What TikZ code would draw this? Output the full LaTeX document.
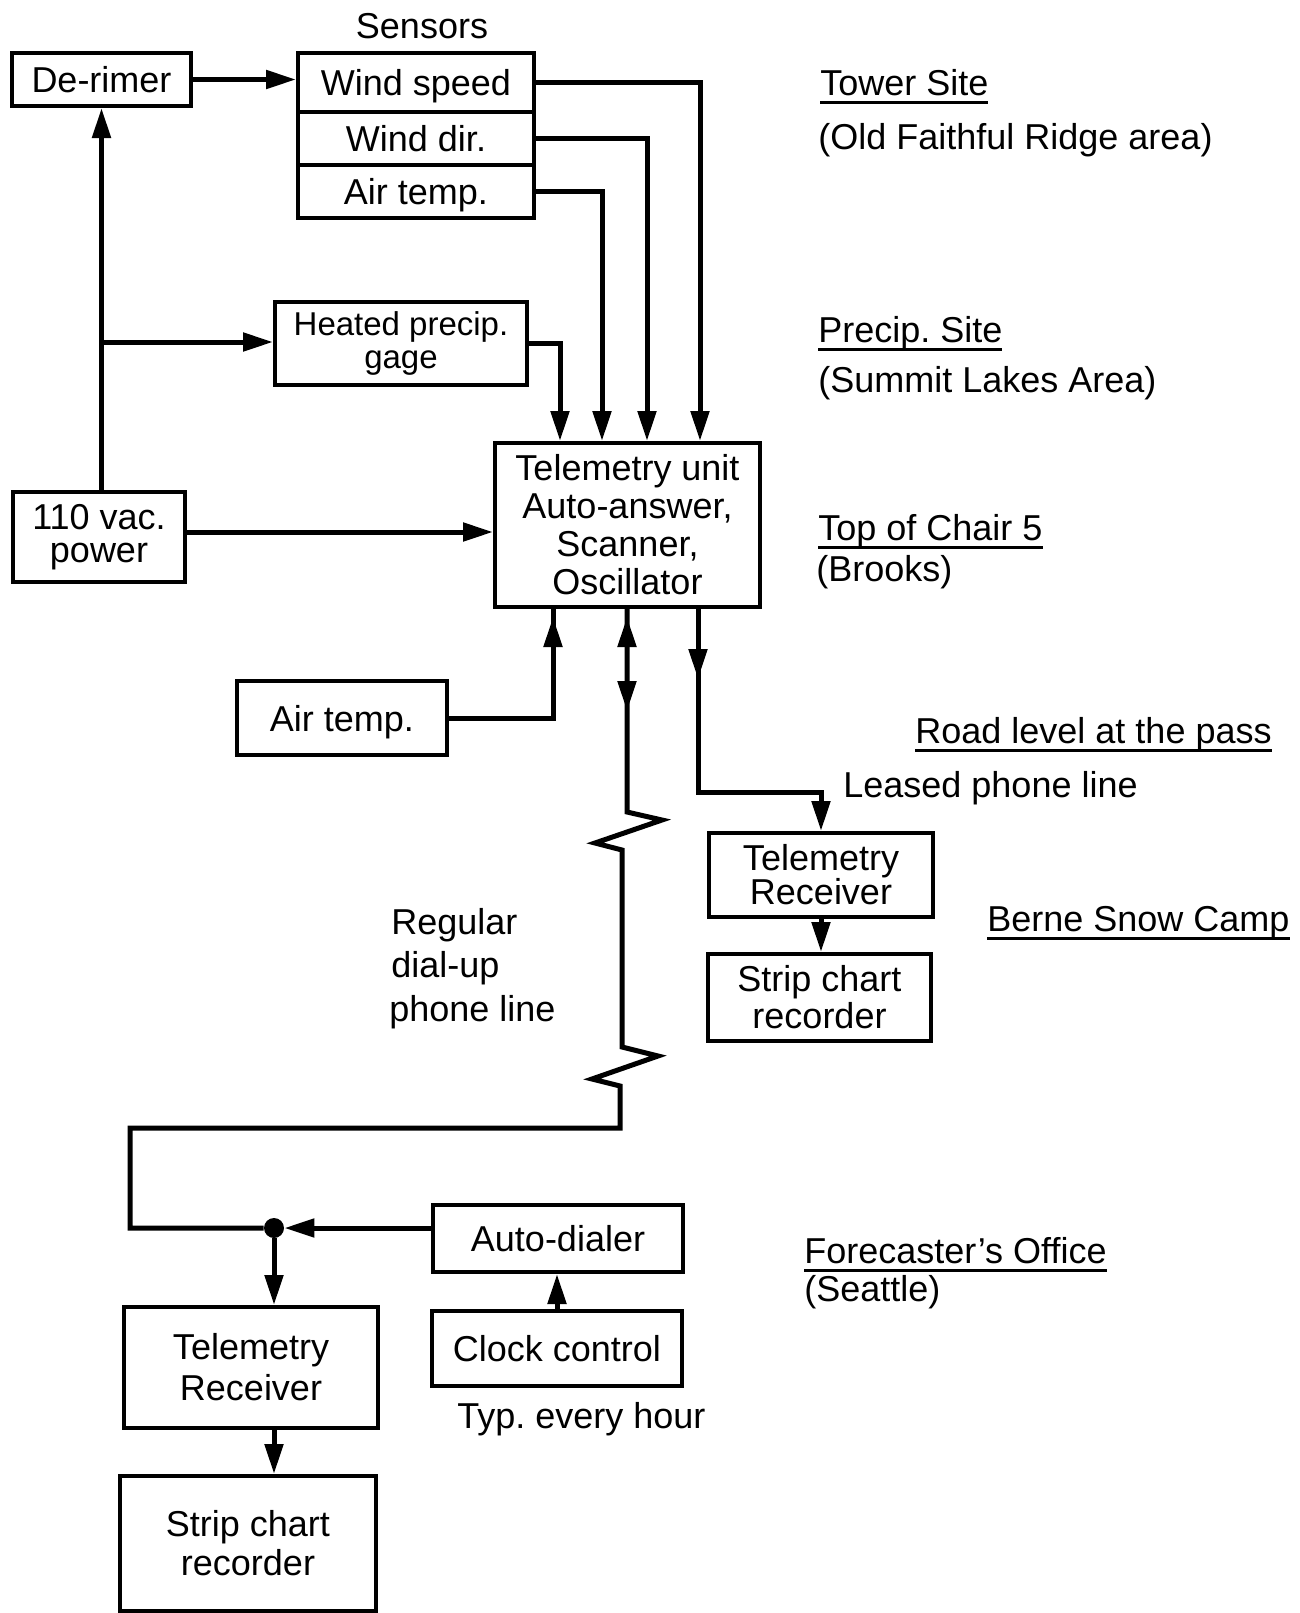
\documentclass[tikz,border=0pt]{standalone}
\usepackage{fontspec}
\setmainfont{Liberation Sans}
\usetikzlibrary{arrows.meta,decorations.markings}
\newcommand\ulbox[1]{\setbox0=\hbox{#1}\rlap{\rule[-4.5pt]{\wd0}{1.5pt}}\box0}
\frenchspacing
\begin{document}
\begin{tikzpicture}[x=0.5pt,y=-0.5pt,
  >={Triangle[length=15pt,width=9pt]},
  box/.style={draw, line width=2pt, inner sep=0pt, align=center,
    font=\fontsize{18pt}{19pt}\selectfont},
  lbl/.style={anchor=base west, inner sep=0pt, font=\fontsize{18pt}{19pt}\selectfont},
  conn/.style={line width=2.5pt},
  arr/.style={conn, ->},
  tipat/.style={postaction={decorate, decoration={markings, mark=at position #1 with {\arrow{>}}}}},
  tipback/.style={postaction={decorate, decoration={markings, mark=at position #1 with {\arrowreversed{>}}}}}
]
\useasboundingbox (0,0) rectangle (1300,1613);

% boxes
\node[box, minimum width=89.5pt, minimum height=26.5pt] (derimer) at (101.5,79.5) {De-rimer};
\node[box, minimum width=118pt, minimum height=29.5pt, text depth=0pt] (ws) at (416,82.5) {Wind speed};
\node[box, minimum width=118pt, minimum height=26.5pt] (wd) at (416,138.5) {Wind dir.};
\node[box, minimum width=118pt, minimum height=26.5pt, text depth=0pt] (at) at (416,191.5) {Air temp.};
\node[box, minimum width=126pt, minimum height=41.5pt, font=\fontsize{16.5pt}{16.5pt}\selectfont] (gage) at (401,343.5) {Heated precip.\\gage};
\node[box, minimum width=132.5pt, minimum height=82pt] (tel) at (627.5,525) {Telemetry unit\\Auto-answer,\\Scanner,\\Oscillator};
\node[box, minimum width=86pt, minimum height=45pt, font=\fontsize{18pt}{16.5pt}\selectfont] (power) at (99,537) {110 vac.\\power};
\node[box, minimum width=105pt, minimum height=37pt, text depth=0pt] (air2) at (342,718) {Air temp.};
\node[box, minimum width=112pt, minimum height=42pt, font=\fontsize{18pt}{17pt}\selectfont] (recv1) at (821,875) {Telemetry\\Receiver};
\node[box, minimum width=111.5pt, minimum height=43.5pt, font=\fontsize{18pt}{18.5pt}\selectfont] (strip1) at (819.5,997.5) {Strip chart\\recorder};
\node[box, minimum width=125pt, minimum height=33.5pt] (autod) at (558,1238.5) {Auto-dialer};
\node[box, minimum width=125pt, minimum height=37.5pt] (clock) at (557,1348.5) {Clock control};
\node[box, minimum width=127pt, minimum height=60.5pt, font=\fontsize{18pt}{20.5pt}\selectfont] (recv2) at (251,1367.5) {Telemetry\\Receiver};
\node[box, minimum width=128pt, minimum height=67.5pt, font=\fontsize{18pt}{19.5pt}\selectfont] (strip2) at (248,1543.5) {Strip chart\\recorder};
\node[circle, fill, minimum size=10pt, inner sep=0pt] (dot) at (274,1228) {};

% labels
\node[lbl, anchor=base] (sens) at (422,38) {Sensors};
\node[lbl] (l1) at (820,95) {\ulbox{Tower Site}};
\node[lbl] (l2) at (818,149) {(Old Faithful Ridge area)};
\node[lbl] (l3) at (818,342) {\ulbox{Precip. Site}};
\node[lbl] (l4) at (818,392) {(Summit Lakes Area)};
\node[lbl] (l5) at (818,540) {\ulbox{Top of Chair 5}};
\node[lbl] (l6) at (816,581) {(Brooks)};
\node[lbl] (l7) at (915,743) {\ulbox{Road level at the pass}};
\node[lbl] (l8) at (843,797) {Leased phone line};
\node[lbl] (l9) at (987,931) {\ulbox{Berne Snow Camp}};
\node[lbl] (l10) at (804,1263) {\ulbox{Forecaster’s Office}};
\node[lbl] (l11) at (804,1301) {(Seattle)};
\node[lbl] (r1) at (391,934) {Regular};
\node[lbl] (r2) at (391,977) {dial-up};
\node[lbl] (r3) at (389,1021) {phone line};
\node[lbl] (typ) at (457,1428) {Typ. every hour};

% helper coordinates
\coordinate (xws) at (700,0);
\coordinate (xwd) at (647,0);
\coordinate (xat) at (602,0);
\coordinate (xgg) at (560,0);
\coordinate (br) at (101.5,342);
\coordinate (pwy) at (0,532);
\coordinate (xa2) at (553,0);
\coordinate (xdl) at (627,0);
\coordinate (lp) at (698,792);

% connectors
\draw[arr] (derimer.east) -- (ws.west |- derimer.east);
\draw[arr] (ws.east) -| (tel.north -| xws);
\draw[arr] (wd.east) -| (tel.north -| xwd);
\draw[arr] (at.east) -| (tel.north -| xat);
\draw[arr] (gage.east) -| (tel.north -| xgg);
\draw[arr] (power.north -| derimer.south) -- (derimer.south);
\draw[arr] (br) -- (gage.west |- br);
\draw[arr] (power.east |- pwy) -- (tel.west |- pwy);
\draw[conn, tipat=-4pt] (air2.east) -| (tel.south -| xa2);
\draw[conn, tipback=4pt, tipat=51pt] (tel.south -| xdl) -- (627,812) -- (662,820) -- (595,843) -- (622,850)
   -- (622,1047) -- (658,1056) -- (592,1079) -- (620,1086) -- (620,1128) -- (130,1128) |- (dot);
\draw[arr, tipat=35pt] (tel.south -| lp) -- (lp) -| (recv1.north);
\draw[arr] (recv1.south) -- (strip1.north -| recv1.south);
\draw[arr] (autod.west |- dot) -- (dot);
\draw[arr] (clock.north) -- (clock.north |- autod.south);
\draw[arr] (dot) -- (dot |- recv2.north);
\draw[arr] (dot |- recv2.south) -- (dot |- strip2.north);
\end{tikzpicture}
\end{document}
